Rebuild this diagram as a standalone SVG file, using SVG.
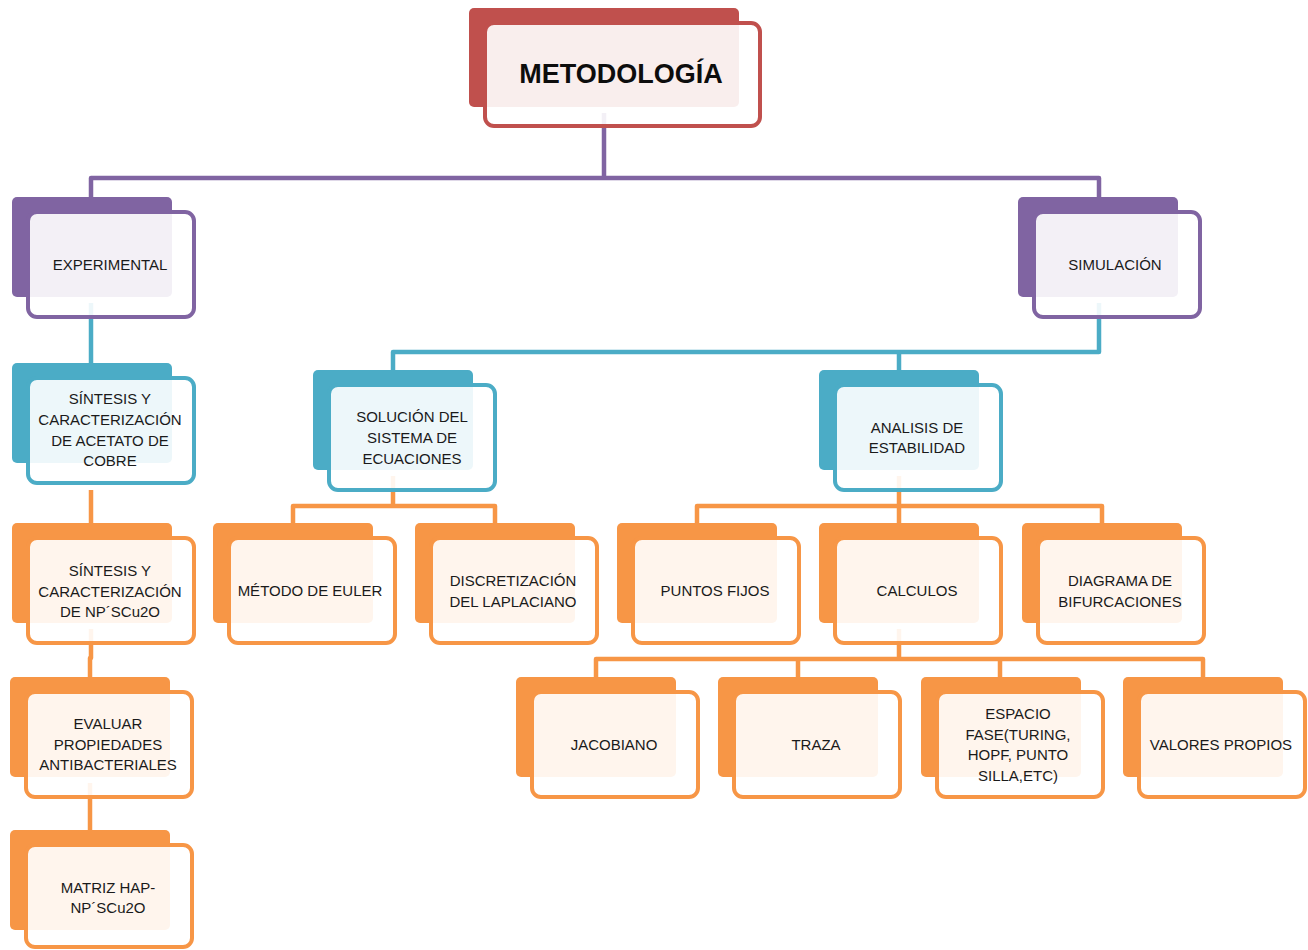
<svg xmlns="http://www.w3.org/2000/svg" width="1308" height="950" viewBox="0 0 1308 950">
<style>
.t{font-family:"Liberation Sans",Arial,sans-serif;font-size:15px;fill:#1a1a1a;text-anchor:middle}
.title{font-family:"Liberation Sans",Arial,sans-serif;font-size:27px;font-weight:bold;fill:#0d0d0d;text-anchor:middle}
.c{fill:none;stroke-width:4.5;stroke-linejoin:round;stroke-linecap:butt}
.cp{stroke:#8064A2}.cb{stroke:#4BACC6}.co{stroke:#F79646}
.bk{rx:5;ry:5}
.fr{fill:#ffffff;fill-opacity:0.9;stroke-width:4;rx:9;ry:9}
.red .bk{fill:#C0504D}.red .fr{stroke:#C0504D}
.pur .bk{fill:#8064A2}.pur .fr{stroke:#8064A2}
.blu .bk{fill:#4BACC6}.blu .fr{stroke:#4BACC6}
.org .bk{fill:#F79646}.org .fr{stroke:#F79646}
</style>
<g id="connectors">
<path class="c cp" d="M604,113 V178 M91,200 V178 H1099 V200"/>
<path class="c cb" d="M91,303 V365"/>
<path class="c cb" d="M1099,303 V352 H393 V372 M899,352 V372"/>
<path class="c co" d="M91,490 V525"/>
<path class="c co" d="M91,629 V658 H90 V679"/>
<path class="c co" d="M90,783 V832"/>
<path class="c co" d="M393,476 V506 M293,525 V506 H495 V525"/>
<path class="c co" d="M899,476 V506 M697,525 V506 H1102 V525 M899,506 V525"/>
<path class="c co" d="M899,629 V659 M596,679 V659 H1203 V679 M798,659 V679 M1000,659 V679"/>
</g>
<g id="metodologia" class="red">
<rect class="bk" x="469" y="8" width="270" height="99"/>
<rect class="fr" x="485" y="23" width="275" height="103"/>
<text class="title" x="621" y="83">METODOLOGÍA</text>
</g>
<g id="experimental" class="pur">
<rect class="bk" x="12" y="197" width="160" height="100"/>
<rect class="fr" x="28" y="212" width="166" height="105"/>
<text class="t" x="110" y="270">EXPERIMENTAL</text>
</g>
<g id="simulacion" class="pur">
<rect class="bk" x="1018" y="197" width="160" height="100"/>
<rect class="fr" x="1034" y="212" width="166" height="105"/>
<text class="t" x="1115" y="270">SIMULACIÓN</text>
</g>
<g id="sintesis-acetato" class="blu">
<rect class="bk" x="12" y="363" width="160" height="100"/>
<rect class="fr" x="28" y="378" width="166" height="105"/>
<text class="t" x="110" y="404">SÍNTESIS Y</text>
<text class="t" x="110" y="425">CARACTERIZACIÓN</text>
<text class="t" x="110" y="446">DE ACETATO DE</text>
<text class="t" x="110" y="466">COBRE</text>
</g>
<g id="solucion" class="blu">
<rect class="bk" x="313" y="370" width="160" height="100"/>
<rect class="fr" x="329" y="385" width="166" height="105"/>
<text class="t" x="412" y="422">SOLUCIÓN DEL</text>
<text class="t" x="412" y="443">SISTEMA DE</text>
<text class="t" x="412" y="464">ECUACIONES</text>
</g>
<g id="analisis" class="blu">
<rect class="bk" x="819" y="370" width="160" height="100"/>
<rect class="fr" x="835" y="385" width="166" height="105"/>
<text class="t" x="917" y="433">ANALISIS DE</text>
<text class="t" x="917" y="453">ESTABILIDAD</text>
</g>
<g id="sintesis-np" class="org">
<rect class="bk" x="12" y="523" width="160" height="100"/>
<rect class="fr" x="28" y="538" width="166" height="105"/>
<text class="t" x="110" y="576">SÍNTESIS Y</text>
<text class="t" x="110" y="597">CARACTERIZACIÓN</text>
<text class="t" x="110" y="617">DE NP´SCu2O</text>
</g>
<g id="euler" class="org">
<rect class="bk" x="213" y="523" width="160" height="100"/>
<rect class="fr" x="229" y="538" width="166" height="105"/>
<text class="t" x="310" y="596">MÉTODO DE EULER</text>
</g>
<g id="discretizacion" class="org">
<rect class="bk" x="415" y="523" width="160" height="100"/>
<rect class="fr" x="431" y="538" width="166" height="105"/>
<text class="t" x="513" y="586">DISCRETIZACIÓN</text>
<text class="t" x="513" y="607">DEL LAPLACIANO</text>
</g>
<g id="puntos-fijos" class="org">
<rect class="bk" x="617" y="523" width="160" height="100"/>
<rect class="fr" x="633" y="538" width="166" height="105"/>
<text class="t" x="715" y="596">PUNTOS FIJOS</text>
</g>
<g id="calculos" class="org">
<rect class="bk" x="819" y="523" width="160" height="100"/>
<rect class="fr" x="835" y="538" width="166" height="105"/>
<text class="t" x="917" y="596">CALCULOS</text>
</g>
<g id="diagrama" class="org">
<rect class="bk" x="1022" y="523" width="160" height="100"/>
<rect class="fr" x="1038" y="538" width="166" height="105"/>
<text class="t" x="1120" y="586">DIAGRAMA DE</text>
<text class="t" x="1120" y="607">BIFURCACIONES</text>
</g>
<g id="evaluar" class="org">
<rect class="bk" x="10" y="677" width="160" height="100"/>
<rect class="fr" x="26" y="692" width="166" height="105"/>
<text class="t" x="108" y="729">EVALUAR</text>
<text class="t" x="108" y="750">PROPIEDADES</text>
<text class="t" x="108" y="770">ANTIBACTERIALES</text>
</g>
<g id="matriz" class="org">
<rect class="bk" x="10" y="830" width="160" height="100"/>
<rect class="fr" x="26" y="845" width="166" height="102"/>
<text class="t" x="108" y="893">MATRIZ HAP-</text>
<text class="t" x="108" y="913">NP´SCu2O</text>
</g>
<g id="jacobiano" class="org">
<rect class="bk" x="516" y="677" width="160" height="100"/>
<rect class="fr" x="532" y="692" width="166" height="105"/>
<text class="t" x="614" y="750">JACOBIANO</text>
</g>
<g id="traza" class="org">
<rect class="bk" x="718" y="677" width="160" height="100"/>
<rect class="fr" x="734" y="692" width="166" height="105"/>
<text class="t" x="816" y="750">TRAZA</text>
</g>
<g id="espacio-fase" class="org">
<rect class="bk" x="921" y="677" width="160" height="100"/>
<rect class="fr" x="937" y="692" width="166" height="105"/>
<text class="t" x="1018" y="719">ESPACIO</text>
<text class="t" x="1018" y="740">FASE(TURING,</text>
<text class="t" x="1018" y="760">HOPF, PUNTO</text>
<text class="t" x="1018" y="781">SILLA,ETC)</text>
</g>
<g id="valores-propios" class="org">
<rect class="bk" x="1123" y="677" width="160" height="100"/>
<rect class="fr" x="1139" y="692" width="166" height="105"/>
<text class="t" x="1221" y="750">VALORES PROPIOS</text>
</g>
</svg>
